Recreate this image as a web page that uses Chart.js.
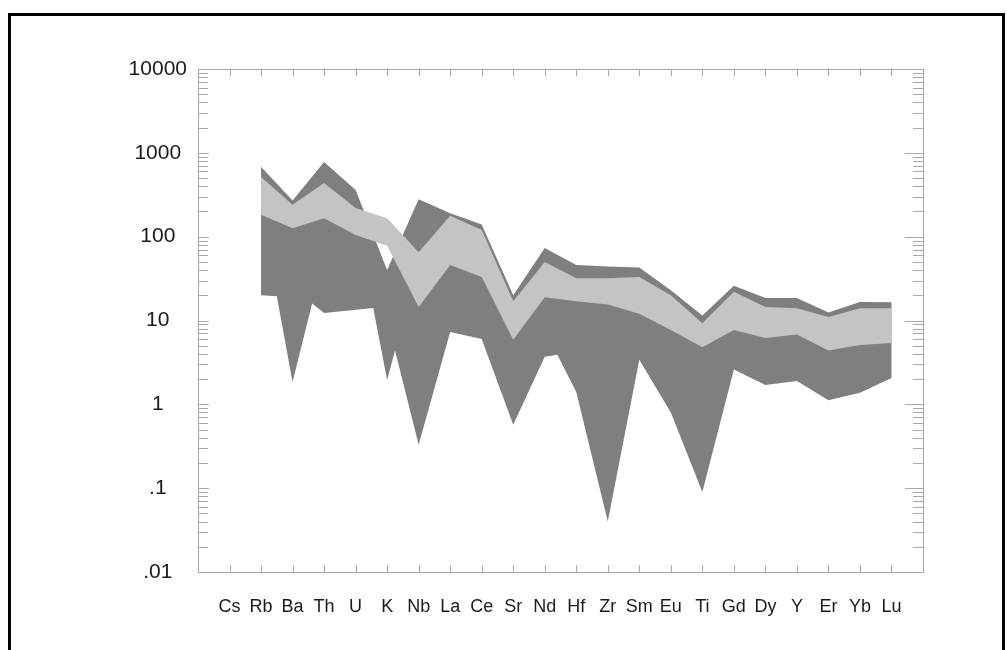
<!DOCTYPE html>
<html lang="en">
<head>
  <meta charset="UTF-8">
  <title>Spider diagram</title>
  <script src="https://cdn.jsdelivr.net/npm/chart.js"></script>
  <style>
    body { margin: 0; background: white; overflow: hidden; }
    #wrap { position: relative; width: 1007px; height: 650px; }
    #frame {
      position: absolute;
      left: 8px; top: 13px;
      width: 991px; height: 700px;
      border: 3px solid black;
      pointer-events: none;
    }
  </style>
</head>
<body>
<div id="wrap">
  <canvas id="chart" width="1007" height="650"></canvas>
  <div id="frame"></div>
</div>
<script>
// element order along the x axis
const elements = ['Cs','Rb','Ba','Th','U','K','Nb','La','Ce','Sr','Nd','Hf','Zr','Sm','Eu','Ti','Gd','Dy','Y','Er','Yb','Lu'];

// y axis decades and their labels
const yTickValues = [0.01, 0.1, 1, 10, 100, 1000, 10000];
const yTickLabels = ['.01', '.1', '1', '10', '100', '1000', '10000'];

// dark field, upper envelope (Rb..Lu)
const darkHiPos = [2, 3, 4, 5, 6, 7, 8, 9, 10, 11, 12, 13, 14, 15, 16, 17, 18, 19, 20, 21, 22];
const darkHi    = [680, 270, 775, 360, 40, 280, 190, 140, 20, 73, 46, 44, 43, 23, 11.5, 26, 18.6, 18.6, 12.5, 16.6, 16.5];

// dark field, lower envelope (includes line crossings between elements)
const darkLoPos = [2, 2.5, 3, 3.62, 4, 5.56, 6, 6.25, 7, 8, 9, 10, 11, 11.4, 12, 13, 14, 15, 16, 17, 18, 19, 20, 21, 22];
const darkLo    = [20, 19.5, 1.85, 16, 12.3, 14.1, 1.95, 4.4, 0.33, 7.3, 6.0, 0.57, 3.7, 3.9, 1.4, 0.04, 3.4, 0.8, 0.09, 2.6, 1.7, 1.9, 1.12, 1.37, 2.06];

// light field (Rb..Lu)
const lightPos = [2, 3, 4, 5, 6, 7, 8, 9, 10, 11, 12, 13, 14, 15, 16, 17, 18, 19, 20, 21, 22];
const lightHi  = [515, 240, 437, 220, 166, 65, 178, 120, 17, 50, 32, 32, 33, 20, 9.3, 22, 14.5, 14, 11, 14, 14];
const lightLo  = [182, 126, 166, 105, 78, 14.5, 46, 33, 5.9, 19, 17, 15.5, 12, 7.7, 4.8, 7.7, 6.2, 6.8, 4.4, 5.1, 5.4];

// closed outline: upper edge left->right, lower edge right->left
function outline(hiPos, hi, loPos, lo) {
  const pts = hiPos.map((p, i) => ({ x: p, y: hi[i] }));
  for (let i = loPos.length - 1; i >= 0; i--) pts.push({ x: loPos[i], y: lo[i] });
  return pts;
}

const axisGray = '#a8a8a8';
const labelFont = 'Liberation Sans, Arial, sans-serif';

// inward tick marks and box round the plot
const frameTicks = {
  id: 'frameTicks',
  afterDatasetsDraw(chart) {
    const { ctx, chartArea: a, scales: { x, y } } = chart;
    ctx.save();
    ctx.strokeStyle = axisGray;
    ctx.lineWidth = 1;
    ctx.beginPath();
    ctx.rect(a.left + 0.5, a.top + 0.5, a.right - a.left, a.bottom - a.top);
    elements.forEach((_, i) => {
      const px = Math.round(x.getPixelForValue(i + 1)) + 0.5;
      ctx.moveTo(px, a.bottom); ctx.lineTo(px, a.bottom - 7);
      ctx.moveTo(px, a.top); ctx.lineTo(px, a.top + 7);
    });
    yTickValues.forEach((d, k) => {
      const py = Math.round(y.getPixelForValue(d)) + 0.5;
      ctx.moveTo(a.left, py); ctx.lineTo(a.left + 11, py);
      ctx.moveTo(a.right, py); ctx.lineTo(a.right - 18, py);
      if (k === yTickValues.length - 1) return;
      for (let m = 2; m <= 9; m++) {
        const my = Math.round(y.getPixelForValue(d * m)) + 0.5;
        ctx.moveTo(a.left, my); ctx.lineTo(a.left + 10, my);
        ctx.moveTo(a.right, my); ctx.lineTo(a.right - 10, my);
      }
    });
    ctx.stroke();
    ctx.restore();
  }
};

new Chart(document.getElementById('chart'), {
  type: 'line',
  data: {
    datasets: [
      {
        label: 'light',
        data: outline(lightPos, lightHi, lightPos, lightLo),
        backgroundColor: '#c4c4c4',
        borderWidth: 0,
        pointRadius: 0,
        fill: 'shape',
        order: 1
      },
      {
        label: 'dark',
        data: outline(darkHiPos, darkHi, darkLoPos, darkLo),
        backgroundColor: '#7f7f7f',
        borderWidth: 0,
        pointRadius: 0,
        fill: 'shape',
        order: 2
      }
    ]
  },
  options: {
    responsive: false,
    animation: false,
    layout: { padding: { left: 0, top: 69, right: 84, bottom: 0 } },
    plugins: { legend: { display: false }, tooltip: { enabled: false } },
    scales: {
      x: {
        type: 'linear',
        min: 0,
        max: 23,
        grid: { display: false, drawTicks: false },
        border: { display: false },
        afterBuildTicks: s => { s.ticks = elements.map((_, i) => ({ value: i + 1 })); },
        afterFit: s => { s.height = 78; },
        ticks: {
          autoSkip: false,
          maxRotation: 0,
          minRotation: 0,
          padding: 24,
          color: '#1a1a1a',
          font: { family: labelFont, size: 18 },
          callback: v => elements[Math.round(v) - 1] || ''
        }
      },
      y: {
        type: 'logarithmic',
        min: 0.01,
        max: 10000,
        grid: { display: false, drawTicks: false },
        border: { display: false },
        afterBuildTicks: s => { s.ticks = yTickValues.map(v => ({ value: v })); },
        afterFit: s => { s.width = 198; },
        ticks: {
          crossAlign: 'center',
          padding: 11,
          color: '#1a1a1a',
          font: { family: labelFont, size: 21 },
          callback: v => yTickLabels[yTickValues.findIndex(t => Math.abs(t - v) / t < 1e-6)]
        }
      }
    }
  },
  plugins: [frameTicks]
});
</script>
</body>
</html>
